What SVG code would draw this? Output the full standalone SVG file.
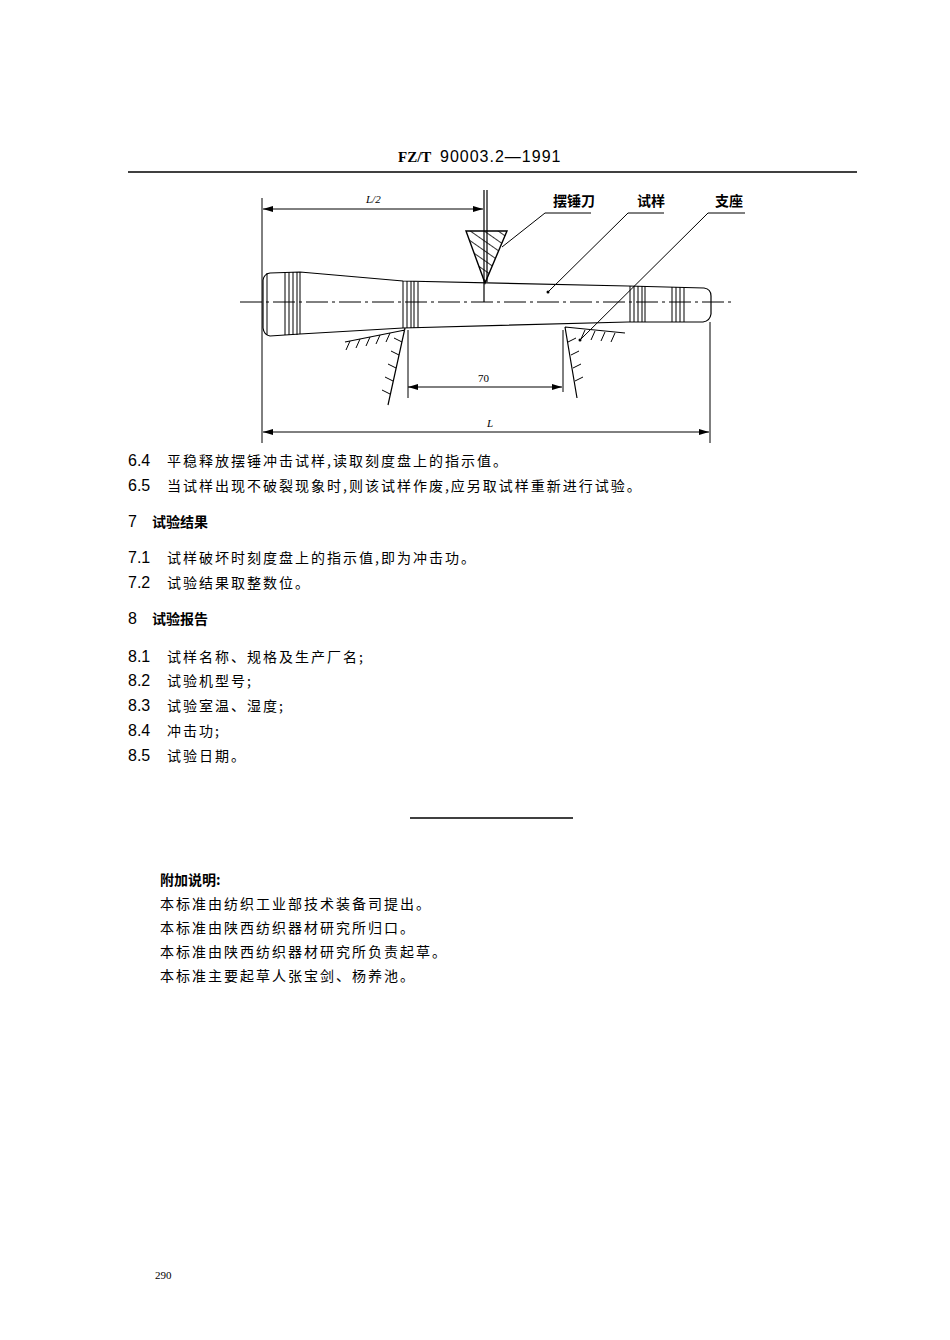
<svg xmlns="http://www.w3.org/2000/svg" width="950" height="1340" viewBox="0 0 950 1340">
<style>
.l{stroke:#000;fill:none;stroke-width:1.2}
.t{stroke:#000;fill:none;stroke-width:1}
.h{font-family:"Liberation Sans","Noto Sans CJK SC",sans-serif;font-size:14px;fill:#000}
.b{font-family:"Noto Sans CJK SC",sans-serif;font-weight:bold;font-size:14px;fill:#000}
.s{font-family:"Liberation Serif",serif;font-size:11px;fill:#000}
.n{font-family:"Liberation Sans Narrow","Liberation Sans",sans-serif;font-size:16px;fill:#000}
.c{font-family:"Noto Sans CJK SC",sans-serif;font-size:14px;fill:#000;letter-spacing:2px}
</style>
<defs>
<pattern id="hp" width="8" height="8" patternUnits="userSpaceOnUse" patternTransform="rotate(-55)">
<line x1="0" y1="0" x2="0" y2="8" stroke="#000" stroke-width="1.6"/>
</pattern>
<marker id="ar" viewBox="0 0 10 6" refX="10" refY="3" markerWidth="10" markerHeight="6" orient="auto-start-reverse"><path d="M0,0L10,3L0,6z" fill="#000"/></marker>
</defs>
<rect width="950" height="1340" fill="#fff"/>
<text x="398" y="162" font-family="Liberation Serif,serif" font-weight="bold" font-size="15">FZ/T</text>
<text x="440" y="162" class="n" letter-spacing="1">90003.2—1991</text>
<line x1="128" y1="172" x2="857" y2="172" stroke="#000" stroke-width="1.3"/>

<g id="dimensions">
<line class="t" x1="262" y1="198" x2="262" y2="443"/>
<line class="t" x1="710" y1="322" x2="710" y2="443"/>
<line class="t" x1="263" y1="209" x2="483" y2="209" marker-start="url(#ar)" marker-end="url(#ar)"/>
<text x="366" y="203" class="s" font-style="italic">L/2</text>
<line class="t" x1="263" y1="432" x2="709" y2="432" marker-start="url(#ar)" marker-end="url(#ar)"/>
<text x="487" y="427" class="s" font-style="italic">L</text>
<line class="t" x1="408" y1="387" x2="562" y2="387" marker-start="url(#ar)" marker-end="url(#ar)"/>
<text x="478" y="382" class="s">70</text>
<line class="t" x1="563" y1="330" x2="563" y2="392"/>
<line class="t" x1="408" y1="330" x2="408" y2="398"/>
</g>

<g id="specimen">
<line class="t" x1="240" y1="302" x2="735" y2="302" stroke-dasharray="22,4,3,4"/>
<path class="l" d="M270,273 L300,272 L403,281 L628,286 L704,288 Q711,289 711,296 L711,314 Q710,321 703,322 L628,322 L403,328 L300,334 L270,336 Q264,335 263,328 L263,280 Q264,274 270,273 Z"/>
<g class="t">
<line x1="267" y1="273" x2="267" y2="335"/>
<line x1="285" y1="272" x2="285" y2="335"/><line x1="289" y1="272" x2="289" y2="335"/><line x1="293" y1="272" x2="293" y2="335"/><line x1="297" y1="272" x2="297" y2="335"/><line x1="300" y1="272" x2="300" y2="334"/>
<line x1="403" y1="281" x2="403" y2="328"/><line x1="407" y1="281" x2="407" y2="328"/><line x1="411" y1="281" x2="411" y2="328"/><line x1="414" y1="281" x2="414" y2="328"/><line x1="418" y1="282" x2="418" y2="328"/>
<line x1="630" y1="286" x2="630" y2="322"/><line x1="634" y1="286" x2="634" y2="322"/><line x1="638" y1="286" x2="638" y2="322"/><line x1="642" y1="286" x2="642" y2="322"/><line x1="645" y1="286" x2="645" y2="322"/>
<line x1="672" y1="287" x2="672" y2="322"/><line x1="676" y1="287" x2="676" y2="322"/><line x1="680" y1="287" x2="680" y2="322"/><line x1="684" y1="287" x2="684" y2="322"/>
</g>
</g>

<g id="blade">
<line class="l" x1="484" y1="190" x2="484" y2="302"/>
<line class="l" x1="487" y1="190" x2="487" y2="282"/>
<path d="M466,231 L507,231 L485,283 Z" fill="url(#hp)" stroke="#000" stroke-width="1.4"/>
</g>

<g id="supports">
<path class="l" d="M405,328 L388,405 M345,342 L405,330 M565,327 L577,398 M565,327 L625,333"/>
<g class="t">
<path d="M350,341 l-4,9 M360,339 l-4,9 M370,337 l-4,9 M380,335 l-4,9 M390,333 l-4,9"/>
<path d="M402,342 l-8,-4 M399,355 l-8,-4 M396,368 l-8,-4 M393,381 l-8,-4 M390,394 l-8,-4"/>
<path d="M568,342 l8,-4 M571,355 l8,-4 M573,368 l8,-4 M575,381 l8,-4"/>
<path d="M585,330 l-4,9 M595,331 l-4,9 M605,332 l-4,9 M615,333 l-4,9"/>
</g>
</g>

<g id="labels">
<text x="553" y="206" class="b" font-size="11">摆锤刀</text>
<text x="637" y="206" class="b" font-size="11">试样</text>
<text x="715" y="206" class="b" font-size="11">支座</text>
<path class="t" d="M502,247 L545,213 L591,213 M548,292 L628,213 L664,213 M580,340 L708,213 L745,213"/>
<circle cx="548" cy="292" r="1.5"/><circle cx="580" cy="340" r="1.5"/>
</g>

<g id="text">
<text x="128" y="466" class="n">6.4</text><text x="167" y="466" class="c">平稳释放摆锤冲击试样,读取刻度盘上的指示值。</text>
<text x="128" y="491" class="n">6.5</text><text x="167" y="491" class="c">当试样出现不破裂现象时,则该试样作废,应另取试样重新进行试验。</text>
<text x="128" y="527" class="n">7</text><text x="152" y="527" class="b">试验结果</text>
<text x="128" y="563" class="n">7.1</text><text x="167" y="563" class="c">试样破坏时刻度盘上的指示值,即为冲击功。</text>
<text x="128" y="588" class="n">7.2</text><text x="167" y="588" class="c">试验结果取整数位。</text>
<text x="128" y="624" class="n">8</text><text x="152" y="624" class="b">试验报告</text>
<text x="128" y="662" class="n">8.1</text><text x="167" y="662" class="c">试样名称、规格及生产厂名;</text>
<text x="128" y="686" class="n">8.2</text><text x="167" y="686" class="c">试验机型号;</text>
<text x="128" y="711" class="n">8.3</text><text x="167" y="711" class="c">试验室温、湿度;</text>
<text x="128" y="736" class="n">8.4</text><text x="167" y="736" class="c">冲击功;</text>
<text x="128" y="761" class="n">8.5</text><text x="167" y="761" class="c">试验日期。</text>
<line x1="410" y1="818" x2="573" y2="818" stroke="#000" stroke-width="1.3"/>
<text x="160" y="885" class="b" font-size="13">附加说明:</text>
<text x="160" y="909" class="c" font-size="13">本标准由纺织工业部技术装备司提出。</text>
<text x="160" y="933" class="c" font-size="13">本标准由陕西纺织器材研究所归口。</text>
<text x="160" y="957" class="c" font-size="13">本标准由陕西纺织器材研究所负责起草。</text>
<text x="160" y="981" class="c" font-size="13">本标准主要起草人张宝剑、杨养池。</text>
<text x="155" y="1279" class="s" font-size="12">290</text>
</g>
</svg>
